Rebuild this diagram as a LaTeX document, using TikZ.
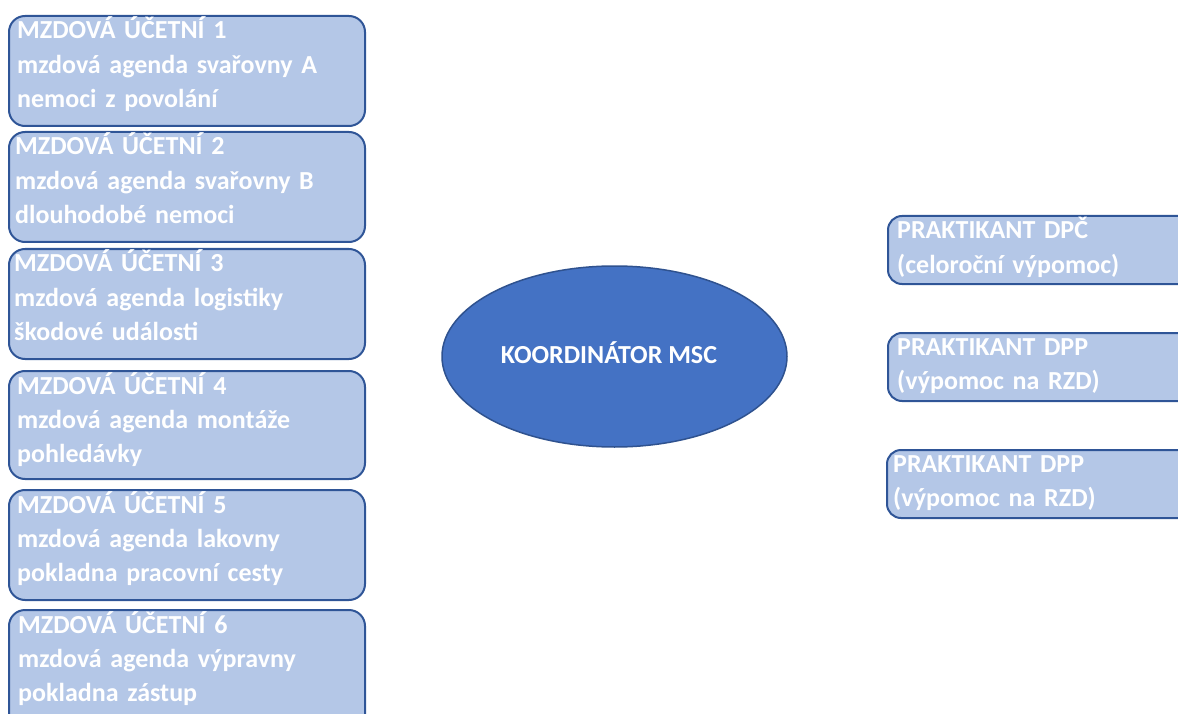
\documentclass[tikz,border=0pt]{standalone}
\usepackage{fontspec}
\setmainfont{Carlito}
\usetikzlibrary{calc}
\definecolor{boxfill}{HTML}{B4C7E7}
\definecolor{boxline}{HTML}{2F5597}
\definecolor{ovalfill}{HTML}{4472C4}
\definecolor{ovalline}{HTML}{2F528F}
\tikzset{
  staffbox/.style={draw=boxline, fill=boxfill, line width=2pt, rounded corners=16pt,
    minimum width=356pt, minimum height=110pt, inner sep=0pt, anchor=north west},
  internbox/.style={draw=boxline, fill=boxfill, line width=2pt, rounded corners=14pt,
    minimum width=330pt, minimum height=68pt, inner sep=0pt, anchor=north west},
  boxtext/.style={text=white, font=\fontsize{26}{34.3}\selectfont\bfseries,
    text width=350pt, align=left, inner sep=0pt, anchor=base west},
  hub/.style={ellipse, draw=ovalline, fill=ovalfill, line width=1.5pt,
    minimum width=345pt, minimum height=181pt, inner sep=0pt}
}
\usetikzlibrary{shapes.geometric}
\begin{document}
\begin{tikzpicture}[x=1pt, y=-1pt]
\useasboundingbox (0,0) rectangle (1178,714);
\clip (0,0) rectangle (1178,714);

% payroll accountants
\node[staffbox, minimum height=110pt] (m1) at (8,15) {};
\node[staffbox, minimum height=110pt] (m2) at (8,131) {};
\node[staffbox, minimum height=110pt] (m3) at (8,248) {};
\node[staffbox, minimum height=108pt] (m4) at (8,370) {};
\node[staffbox, minimum height=110pt] (m5) at (8,489) {};
\node[staffbox, minimum height=130pt] (m6) at (8,609) {};

\node[boxtext] (m1t) at ($(m1.north west)+(9,24)$) {MZDOVÁ ÚČETNÍ 1\\mzdová agenda svařovny A\\nemoci z povolání};
\node[boxtext] (m2t) at ($(m2.north west)+(7,24)$) {MZDOVÁ ÚČETNÍ 2\\mzdová agenda svařovny B\\dlouhodobé nemoci};
\node[boxtext] (m3t) at ($(m3.north west)+(6,24)$) {MZDOVÁ ÚČETNÍ 3\\mzdová agenda logistiky\\škodové události};
\node[boxtext] (m4t) at ($(m4.north west)+(9,24)$) {MZDOVÁ ÚČETNÍ 4\\mzdová agenda montáže\\pohledávky};
\node[boxtext] (m5t) at ($(m5.north west)+(9,24)$) {MZDOVÁ ÚČETNÍ 5\\mzdová agenda lakovny\\pokladna pracovní cesty};
\node[boxtext] (m6t) at ($(m6.north west)+(10,24)$) {MZDOVÁ ÚČETNÍ 6\\mzdová agenda výpravny\\pokladna zástup};

% coordinator
\node[hub] (k) at (614.5,356.5) {};
\node[text=white, font=\fontsize{26}{30}\selectfont\bfseries, anchor=base, inner sep=0pt] (kt) at (609,363) {KOORDINÁTOR MSC};

% trainees
\node[internbox] (p1) at (887,215) {};
\node[internbox] (p2) at (887,332) {};
\node[internbox] (p3) at (886,449) {};

\node[boxtext] (p1t) at ($(p1.north west)+(10,24)$) {PRAKTIKANT DPČ\\(celoroční výpomoc)};
\node[boxtext] (p2t) at ($(p2.north west)+(10,23)$) {PRAKTIKANT DPP\\(výpomoc na RZD)};
\node[boxtext] (p3t) at ($(p3.north west)+(7,23)$) {PRAKTIKANT DPP\\(výpomoc na RZD)};
\end{tikzpicture}
\end{document}
